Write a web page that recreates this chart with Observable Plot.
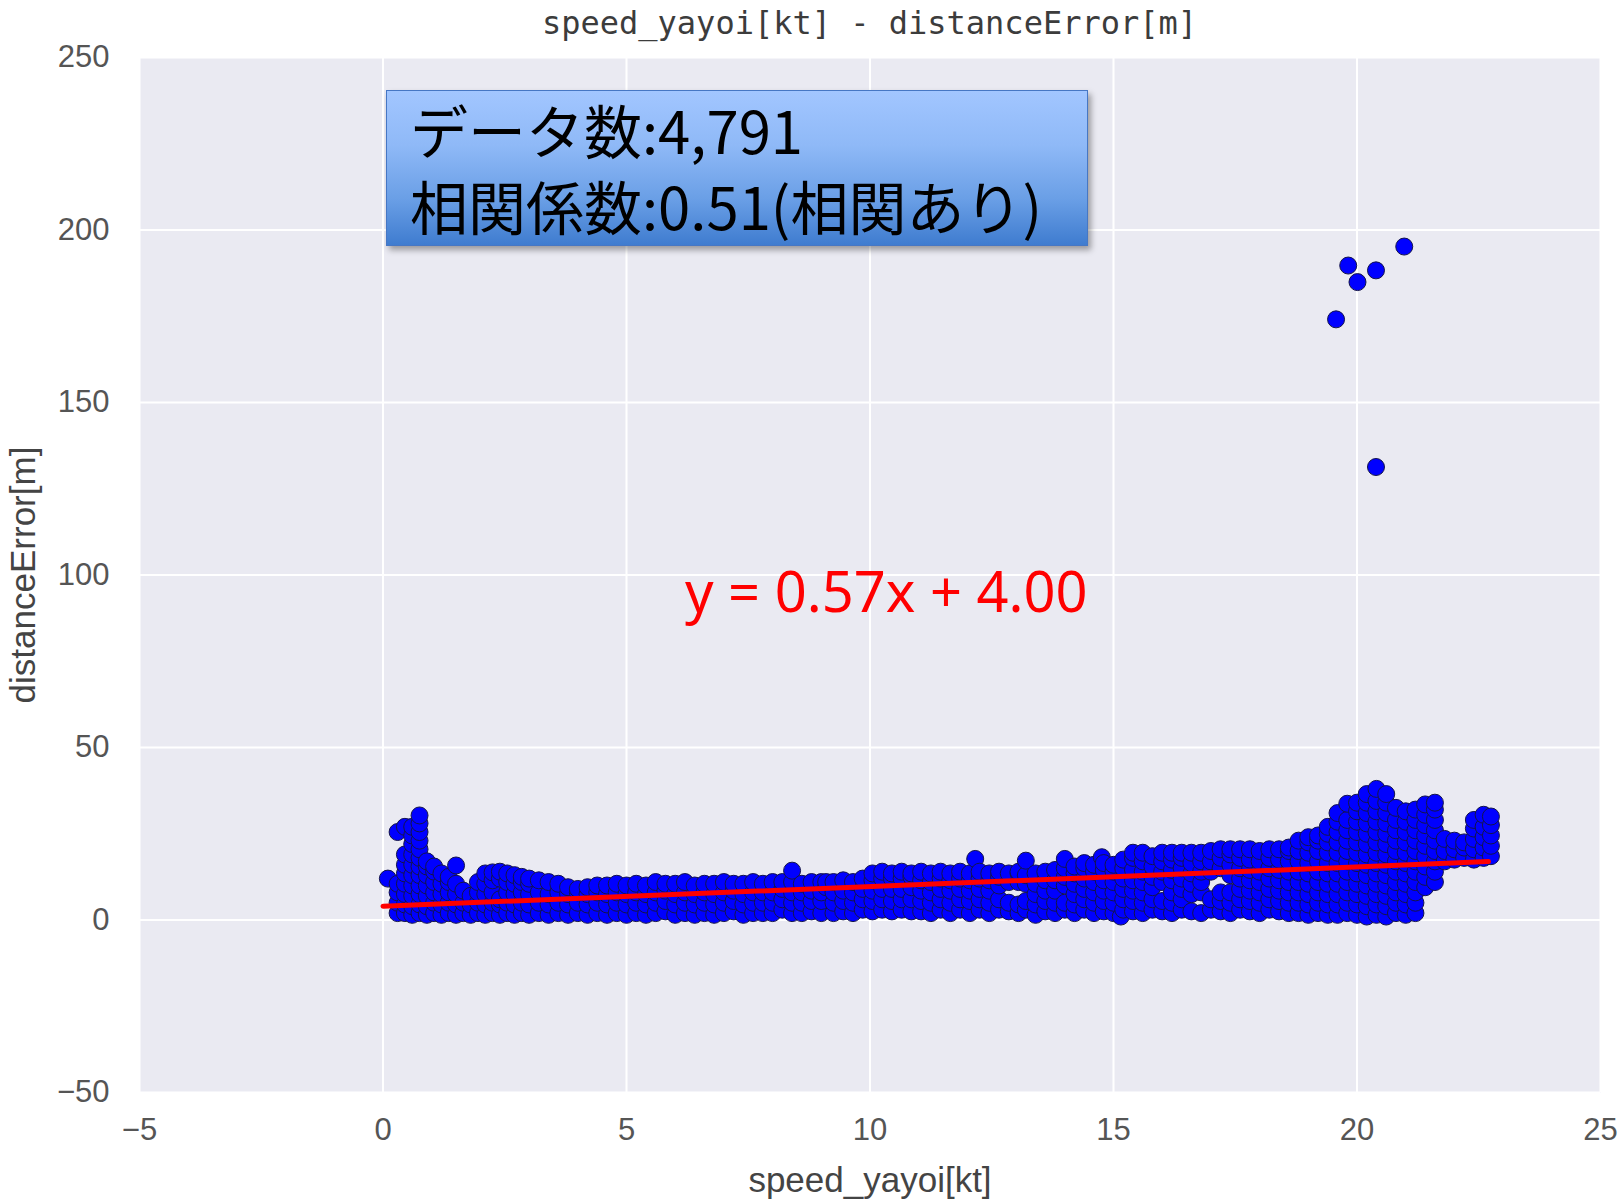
<!DOCTYPE html>
<html>
<head>
<meta charset="utf-8">
<script src="https://cdn.jsdelivr.net/npm/d3@7"></script>
<script src="https://cdn.jsdelivr.net/npm/@observablehq/plot@0.6"></script>
<style>
  html, body { margin: 0; padding: 0; background: #ffffff; }
  #wrap { position: relative; width: 1618px; height: 1199px; overflow: hidden; }
  #title {
    box-sizing: border-box; width: 1618px; height: 44px; padding: 0 18px 0 139px;
    text-align: center; line-height: 46px;
    font-family: "DejaVu Sans Mono", "Liberation Mono", monospace; font-size: 32px; color: #3c3c3c;
  }
  #statsBox {
    position: absolute; left: 386px; top: 90px; width: 702px; height: 156px; box-sizing: border-box;
    border: 1px solid #4677c4;
    background: linear-gradient(to bottom, #a2c6ff 0%, #8fb9f7 35%, #6a9fe6 70%, #3f7ccf 100%);
    box-shadow: 3px 4px 6px rgba(0, 0, 0, 0.35);
  }
  #statsBox svg { position: absolute; left: 0; top: -20px; overflow: visible; }
</style>
</head>
<body>
<div id="wrap">
  <div id="title"></div>
  <div id="chart"></div>
  <div id="statsBox"></div>
</div>
<script>
// Regression result and summary figures
const slope = 0.57;
const intercept = 4.00;
const fitRange = [0, 22.7];          // speed span covered by the fitted line [kt]
const sampleCount = 4791;
const correlation = 0.51;

// Axis ticks
const xTicks = [-5, 0, 5, 10, 15, 20, 25];
const yTicks = [-50, 0, 50, 100, 150, 200, 250];

// Scatter samples, grouped by speed [kt] -> list of distance errors [m]
const speedColumns = [
  0.10, 0.30, 0.45, 0.60, 0.75, 0.90, 1.05, 1.20, 1.35, 1.50, 1.65, 1.80, 1.95,
  2.10, 2.25, 2.40, 2.55, 2.70, 2.85, 3.00, 3.20, 3.40, 3.60, 3.80, 4.00, 4.20,
  4.40, 4.60, 4.80, 5.00, 5.20, 5.40, 5.60, 5.80, 6.00, 6.20, 6.40, 6.60, 6.80,
  7.00, 7.20, 7.40, 7.60, 7.80, 8.00, 8.20, 8.40, 8.60, 8.80, 9.00, 9.10, 9.25,
  9.45, 9.65, 9.85, 10.05, 10.25, 10.45, 10.65, 10.85, 11.05, 11.25, 11.45, 11.65,
  11.85, 12.05, 12.16, 12.25, 12.45, 12.65, 12.85, 13.05, 13.20, 13.40, 13.60,
  13.80, 14.00, 14.20, 14.40, 14.60, 14.76, 14.80, 15.00, 15.15, 15.20, 15.40,
  15.60, 15.80, 16.00, 16.20, 16.40, 16.60, 16.80, 17.00, 17.20, 17.40, 17.60,
  17.80, 18.00, 18.20, 18.40, 18.60, 18.80, 19.00, 19.20, 19.40, 19.60, 19.80,
  20.00, 20.20, 20.40, 20.60, 20.80, 21.00, 21.20, 21.40, 21.60, 21.80, 22.00,
  22.20, 22.40, 22.60, 22.75
];
const errorColumns = [
  [12],
  [2, 5, 8, 10.5, 25.5],
  [2, 4.5, 7.5, 10.5, 13.5, 16, 19, 27],
  [1.5, 4, 7, 10, 13, 16, 19, 22, 24.5, 27],
  [2, 4.5, 7.5, 10, 13, 15.5, 18, 20.5, 23, 25.5, 28, 30.3],
  [1.5, 4, 7, 10, 13, 15.5, 17],
  [2, 5, 8, 11, 14, 15.5],
  [1.5, 4.5, 7.5, 10.5, 13.5],
  [2, 5, 8, 11, 12.5],
  [1.5, 4.5, 7.5, 10.5, 15.8],
  [2, 5, 8.5],
  [1.5, 4.5, 7],
  [2, 5, 8, 11],
  [1.5, 4.5, 7.5, 10.5, 13.5],
  [2, 5, 8, 11.5, 13.8],
  [1.5, 4.5, 6, 12, 14],
  [2, 5, 8, 11, 13.5],
  [1.5, 4.5, 7.5, 10.5, 13],
  [2, 5, 8, 11, 12.5],
  [1.5, 4.5, 7.5, 10.5, 12],
  [2, 5, 8, 11.5],
  [1.5, 4.5, 7.5, 11],
  [2, 5, 8, 10.5],
  [1.5, 4.5, 7.5, 9.5],
  [2, 5, 8, 9],
  [1.5, 4.5, 7.5, 9.5],
  [2, 5, 8, 10],
  [1.5, 4.5, 7.5, 10],
  [2, 5, 8, 10.5],
  [1.5, 4.5, 7.5, 10],
  [2, 5, 8, 10.5],
  [1.5, 4.5, 7.5, 10],
  [2, 5, 8, 11],
  [2.5, 5.5, 8.5, 10.5],
  [1.5, 4.5, 7.5, 10.5],
  [2, 5, 8, 11],
  [1.5, 4.5, 7.5, 10],
  [2, 5, 8, 10.5],
  [1.5, 4.5, 7.5, 10.5],
  [2, 5, 8, 11],
  [2.5, 5.5, 8.5, 10.5],
  [1.5, 4.5, 7.5, 10.5],
  [2, 5, 8, 11],
  [2, 5, 8, 10.5],
  [2, 5, 8, 11],
  [3, 6, 9, 11],
  [2, 5, 8, 11, 14.3],
  [2, 5, 8, 10.5],
  [2.5, 5.5, 8.5, 11],
  [2, 5.5, 8, 11],
  [9.5, 11],
  [2, 5, 8, 11],
  [2.5, 5.5, 8.5, 11.5],
  [2, 5, 8, 11],
  [3, 6, 9, 12],
  [2.5, 5.5, 8.5, 11.5, 13.5],
  [3, 6, 9, 12, 14],
  [2.5, 5.5, 9, 12, 13.5],
  [3, 6, 9, 12, 14],
  [2.5, 6, 9.5, 12.5, 13.5],
  [2.5, 5.5, 8.5, 11.5, 14],
  [2, 5, 8, 11, 13.5],
  [3, 6, 9, 12, 14],
  [2, 5, 8.5, 11.5, 13.5],
  [3, 6, 9, 12, 14],
  [2, 5.5, 8.5, 11.5, 13.5],
  [17.7],
  [3, 6, 9, 12, 14],
  [2, 5, 8.5, 11.5, 13.5],
  [3, 6, 10, 12.5, 14],
  [2.5, 5, 11, 13.5],
  [2, 4.5, 11, 13.5, 14],
  [3, 5.5, 10.5, 13, 17.2],
  [1.5, 4.5, 7.5, 10.5, 13.5],
  [2.5, 5.5, 8.5, 11.5, 14],
  [2, 5, 8.5, 11.5, 14.5],
  [3, 5, 10, 12.5, 15, 17.7],
  [2, 4.5, 7.5, 10.5, 13.5, 15.5],
  [3, 6, 9, 12, 15, 16.5],
  [2, 5, 8, 11, 14, 16],
  [18.2],
  [2.5, 5.5, 8.5, 11.5, 14.5, 16.5],
  [2, 5, 8, 11, 14, 16],
  [1],
  [3, 6, 9, 12, 15, 17.5],
  [2.5, 5.5, 8.5, 11.5, 14.5, 18, 19.5],
  [2, 5, 8, 11, 14, 17, 19.5],
  [3, 6, 9.5, 12.5, 15.5, 18.5],
  [2.5, 5.5, 11, 14, 17, 19.5],
  [2, 5, 8, 11.5, 14.5, 17.5, 19.5],
  [3, 6, 9, 12, 15, 18, 19.5],
  [2.5, 7.5, 10.5, 13.5, 16.5, 19.5],
  [2, 8, 11, 14, 17, 19.5],
  [3, 6, 14, 17, 20],
  [2.5, 5.5, 8, 15, 18, 20.5],
  [2, 5, 8, 13, 16, 19, 20.5],
  [3, 6, 9, 12, 15, 18, 20.5],
  [2.5, 5.5, 8.5, 11.5, 14.5, 17.5, 20.5],
  [2, 5, 8, 11, 14, 17, 20],
  [3, 6, 9, 12, 15, 18, 20.5],
  [2.5, 5.5, 8.5, 11.5, 14.5, 17.5, 20.5],
  [2, 5, 8, 11, 14, 17, 20, 21],
  [2, 5, 8, 11, 14, 17, 20, 23],
  [1.5, 4.5, 7.5, 10.5, 13.5, 16.5, 19.5, 22.5, 24],
  [2, 5, 8, 11, 14, 17, 20, 23, 24.5],
  [1.5, 4.5, 7.5, 10.5, 13.5, 16.5, 19.5, 22.5, 25, 27],
  [1.5, 4.5, 7.5, 10.5, 13.5, 16.5, 19.5, 22.5, 25.5, 28.5, 31],
  [2, 5, 8, 11, 14, 17, 20, 23, 26, 29, 33.7],
  [1.5, 4.5, 7.5, 10.5, 13.5, 16.5, 19.5, 22.5, 25.5, 28.5, 31.5, 34],
  [1, 4, 7, 10, 13, 16, 19, 22, 25, 28, 31, 34, 36.5],
  [1.5, 4.5, 7.5, 10.5, 13.5, 16.5, 19.5, 22.5, 25.5, 28.5, 31.5, 34.5, 38],
  [1, 4, 7, 10, 13, 16, 19, 22, 25, 28, 31, 34, 36.5],
  [2, 5, 8, 11, 14, 17, 20, 23, 26, 29, 32.5],
  [1.5, 4.5, 7.5, 10.5, 13.5, 16.5, 19.5, 22.5, 25.5, 28.5, 31.5],
  [2, 5, 8, 11, 14, 17, 20, 23, 26, 29, 32],
  [9.5, 12.5, 15.5, 18.5, 21.5, 24.5, 27.5, 30.5, 33.5],
  [11, 14, 17, 20, 23, 26, 29, 32, 34],
  [17, 20, 23.5],
  [17.5, 20.5, 23],
  [18, 21, 22.5],
  [17.5, 20.5, 23.5, 26.5, 29],
  [18, 21, 24, 27, 30.5],
  [18.5, 21.5, 24.5, 27.5, 30]
];

// Isolated large-error samples
const outlierSpeed = [19.57, 19.82, 20.01, 20.39, 20.97, 20.39];
const outlierError = [174.1, 189.7, 184.9, 188.3, 195.2, 131.3];

// Flatten into one table of samples
const samples = [];
speedColumns.forEach((speed, i) => {
  for (const error of errorColumns[i]) samples.push({speed, error});
});
outlierSpeed.forEach((speed, i) => samples.push({speed, error: outlierError[i]}));

const fitLine = fitRange.map(speed => ({speed, error: slope * speed + intercept}));
const equation = `y = ${slope.toFixed(2)}x + ${intercept.toFixed(2)}`;

document.getElementById("title").textContent = "speed_yayoi[kt] - distanceError[m]";

const chart = Plot.plot({
  width: 1618,
  height: 1155,
  marginTop: 13,
  marginRight: 18,
  marginBottom: 107,
  marginLeft: 139,
  style: {
    fontFamily: "'Liberation Sans', Arial, sans-serif",
    background: "transparent",
    color: "#555555",
    overflow: "visible"
  },
  x: {domain: [-5, 25]},
  y: {domain: [-50, 250]},
  marks: [
    Plot.frame({fill: "#eaeaf2", stroke: null}),
    Plot.gridX(xTicks, {stroke: "#ffffff", strokeOpacity: 1, strokeWidth: 2}),
    Plot.gridY(yTicks, {stroke: "#ffffff", strokeOpacity: 1, strokeWidth: 2}),
    Plot.axisX(xTicks, {tickSize: 0, tickPadding: 25, fontSize: 31, label: null}),
    Plot.axisY(yTicks, {tickSize: 0, tickPadding: 30, fontSize: 31, label: null}),
    Plot.dot(samples, {x: "speed", y: "error", r: 8.5, fill: "#0000ff", stroke: "#14144a", strokeWidth: 1}),
    Plot.line(fitLine, {x: "speed", y: "error", stroke: "#ff0000", strokeWidth: 5}),
    Plot.text([equation], {
      x: () => 6.2, y: () => 89.4, text: d => d,
      textAnchor: "start", lineAnchor: "bottom",
      fontSize: 56, fontFamily: "'Noto Sans', sans-serif", fill: "#ff0000"
    }),
    Plot.text(["speed_yayoi[kt]"], {
      frameAnchor: "bottom", dy: 88, textAnchor: "middle", lineAnchor: "middle",
      fontSize: 35, fill: "#444444"
    }),
    Plot.text(["distanceError[m]"], {
      frameAnchor: "left", dx: -116, rotate: -90, textAnchor: "middle", lineAnchor: "middle",
      fontSize: 35, fill: "#444444"
    })
  ]
});
document.getElementById("chart").appendChild(chart);

// Summary box: sample count and correlation coefficient
const fmtCount = d3.format(",");
const box = d3.select("#statsBox").append("svg").attr("width", 702).attr("height", 196);
const boxLines = [
  `データ数:${fmtCount(sampleCount)}`,
  `相関係数:${correlation.toFixed(2)}(相関あり)`
];
box.selectAll("text").data(boxLines).join("text")
  .attr("x", 23)
  .attr("y", (d, i) => 83 + i * 76)
  .attr("font-family", "'Noto Sans CJK JP', sans-serif")
  .attr("font-size", 58)
  .attr("fill", "#000000")
  .text(d => d);
</script>
</body>
</html>
